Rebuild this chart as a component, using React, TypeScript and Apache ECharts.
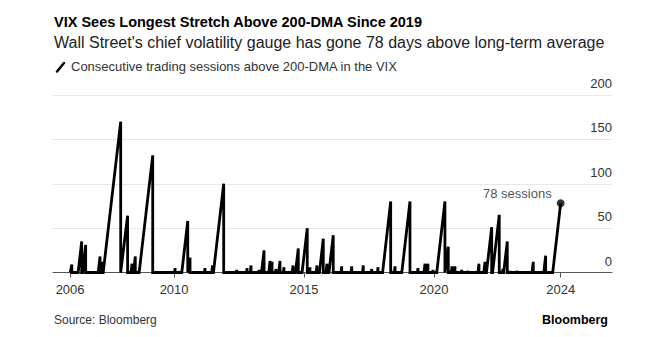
import React, { useEffect, useRef } from 'react';
import * as echarts from 'echarts';

// Each run of consecutive sessions above the 200-day moving average:
// first session, last session, and the count reached on the last session.
const runStart = [
  '2006-01-12', '2006-04-24', '2006-06-25', '2007-01-31', '2007-03-14',
  '2007-04-11', '2007-12-17', '2008-05-06', '2008-06-10', '2008-08-28',
  '2010-01-08', '2010-04-19', '2010-07-21', '2011-03-05', '2011-06-14',
  '2011-07-08', '2012-05-26', '2012-10-15', '2012-12-06', '2013-04-05',
  '2013-05-13', '2013-08-23', '2013-09-21', '2013-11-27', '2014-01-10',
  '2014-03-17', '2014-07-18', '2014-09-02', '2014-12-04', '2015-03-17',
  '2015-06-20', '2015-08-05', '2015-11-05', '2015-12-17', '2016-06-03',
  '2016-10-22', '2017-04-01', '2017-08-03', '2017-10-28', '2018-01-08',
  '2018-06-22', '2018-10-05', '2019-05-13', '2019-08-12', '2019-09-23',
  '2019-12-13', '2020-02-08', '2020-06-07', '2020-08-30', '2020-10-11',
  '2021-01-20', '2021-04-19', '2021-09-09', '2021-11-30', '2022-01-06',
  '2022-04-02', '2022-08-21', '2022-09-05', '2022-11-30', '2023-03-08',
  '2023-10-09', '2024-03-22', '2024-07-25',
];
const runEnd = [
  '2006-01-25', '2006-06-13', '2006-08-08', '2007-02-26', '2007-04-01',
  '2007-12-13', '2008-03-19', '2008-05-20', '2008-07-05', '2009-03-07',
  '2010-01-15', '2010-07-12', '2010-08-13', '2011-03-11', '2011-06-25',
  '2011-11-29', '2012-05-30', '2012-10-22', '2012-12-17', '2013-04-09',
  '2013-06-18', '2013-09-10', '2013-10-08', '2013-12-03', '2014-01-28',
  '2014-03-25', '2014-07-30', '2014-10-12', '2015-02-15', '2015-03-25',
  '2015-07-01', '2015-09-28', '2015-11-19', '2016-02-15', '2016-06-13',
  '2016-11-01', '2017-04-12', '2017-08-09', '2017-11-05', '2018-05-02',
  '2018-07-02', '2019-01-28', '2019-05-20', '2019-08-27', '2019-10-07',
  '2019-12-16', '2020-06-02', '2020-07-19', '2020-09-09', '2020-10-21',
  '2021-01-24', '2021-04-22', '2021-09-23', '2021-12-17', '2022-03-21',
  '2022-07-05', '2022-08-26', '2022-10-26', '2022-12-03', '2023-03-11',
  '2023-10-26', '2024-04-17', '2024-11-14',
];
const runPeak = [
  9, 35, 31, 18, 12,
  170, 64, 10, 18, 132,
  5, 58, 17, 5, 8,
  100, 3, 5, 8, 3,
  25, 13, 12, 4, 13,
  6, 8, 27, 50, 6,
  8, 38, 10, 42, 7,
  7, 8, 4, 6, 80,
  7, 80, 5, 10, 10,
  3, 80, 29, 7, 7,
  3, 2, 10, 12, 51,
  65, 4, 35, 2, 2,
  12, 19, 78,
];

const seriesStart = '2006-01-03';
const axisMin = '2005-05-06';
const axisMax = '2026-11-05';
const xTickDates = ['2006-01-01', '2010-01-01', '2015-01-01', '2020-01-01', '2024-11-14'];
const yMax = 200;
const yStep = 50;

const FONT = '"Liberation Sans", Arial, Helvetica, sans-serif';

// Timestamp for a YYYY-MM-DD string.
function ts(s: string): number {
  const [y, m, d] = s.split('-').map(Number);
  return Date.UTC(y, m - 1, d);
}

export default function App() {
  const ref = useRef<HTMLDivElement>(null);

  useEffect(() => {
    if (!ref.current) return;
    const chart = echarts.init(ref.current, null, { renderer: 'svg' });

    // Counter climbs through each run and falls back to zero when it ends.
    const linePoints: [number, number][] = [[ts(seriesStart), 0]];
    runPeak.forEach((peak, i) => {
      linePoints.push([ts(runStart[i]), 0]);
      linePoints.push([ts(runEnd[i]), peak]);
      if (i < runPeak.length - 1) linePoints.push([ts(runEnd[i]), 0]);
    });
    const last = runPeak.length - 1;
    const tickValues = xTickDates.map(ts);

    chart.setOption({
      animation: false,
      backgroundColor: '#ffffff',
      textStyle: { fontFamily: FONT },
      grid: { left: 53, right: 47, top: 95, bottom: 64.5, containLabel: false },
      xAxis: {
        type: 'value',
        min: ts(axisMin),
        max: ts(axisMax),
        axisLine: { show: true, lineStyle: { color: '#555555', width: 1 } },
        axisTick: { show: true, length: 5, customValues: tickValues, lineStyle: { color: '#555555', width: 1 } },
        axisLabel: {
          customValues: tickValues,
          formatter: (v: number) => String(new Date(v).getUTCFullYear()),
          fontSize: 13,
          color: '#333333',
          margin: 10,
          fontFamily: FONT,
          hideOverlap: false,
        },
        splitLine: { show: false },
      },
      yAxis: {
        type: 'value',
        position: 'right',
        min: 0,
        max: yMax,
        interval: yStep,
        axisLine: { show: false },
        axisTick: { show: false },
        splitLine: { show: true, lineStyle: { color: '#e6e6e6', width: 1 } },
        axisLabel: {
          inside: true,
          margin: 0,
          verticalAlign: 'bottom',
          padding: [0, 0, 5, 0],
          fontSize: 13,
          color: '#333333',
          fontFamily: FONT,
        },
      },
      series: [
        {
          type: 'line',
          data: linePoints,
          showSymbol: false,
          silent: true,
          lineStyle: { color: '#000000', width: 2.8, join: 'miter' },
          z: 3,
        },
        {
          type: 'scatter',
          data: [[ts(runEnd[last]), runPeak[last]]],
          symbolSize: 8,
          itemStyle: { color: '#000000' },
          silent: true,
          z: 4,
          label: {
            show: true,
            position: 'left',
            offset: [0, -10],
            formatter: (p: any) => `${p.value[1]} sessions`,
            fontSize: 13,
            color: '#222222',
            fontFamily: FONT,
          },
        },
      ],
      graphic: [
        {
          type: 'text',
          left: 54,
          top: 14,
          style: {
            text: 'VIX Sees Longest Stretch Above 200-DMA Since 2019',
            font: `bold 14.5px ${FONT}`,
            fill: '#000000',
          },
        },
        {
          type: 'text',
          left: 54,
          top: 34,
          style: {
            text: "Wall Street's chief volatility gauge has gone 78 days above long-term average",
            font: `16px ${FONT}`,
            fill: '#222222',
          },
        },
        {
          type: 'line',
          shape: { x1: 57, y1: 71.5, x2: 64, y2: 63 },
          style: { stroke: '#000000', lineWidth: 2.5, lineCap: 'round' },
        },
        {
          type: 'text',
          left: 71,
          top: 60,
          style: {
            text: 'Consecutive trading sessions above 200-DMA in the VIX',
            font: `13px ${FONT}`,
            fill: '#333333',
          },
        },
        {
          type: 'text',
          left: 54,
          top: 314,
          style: {
            text: 'Source: Bloomberg',
            font: `12px ${FONT}`,
            fill: '#333333',
          },
        },
        {
          type: 'text',
          right: 51,
          top: 313,
          style: {
            text: 'Bloomberg',
            font: `bold 12.5px ${FONT}`,
            fill: '#000000',
          },
        },
      ],
    });

    return () => chart.dispose();
  }, []);

  return (
    <div
      ref={ref}
      style={{ position: 'fixed', left: 0, top: 0, width: 659, height: 337, background: '#ffffff' }}
    />
  );
}
